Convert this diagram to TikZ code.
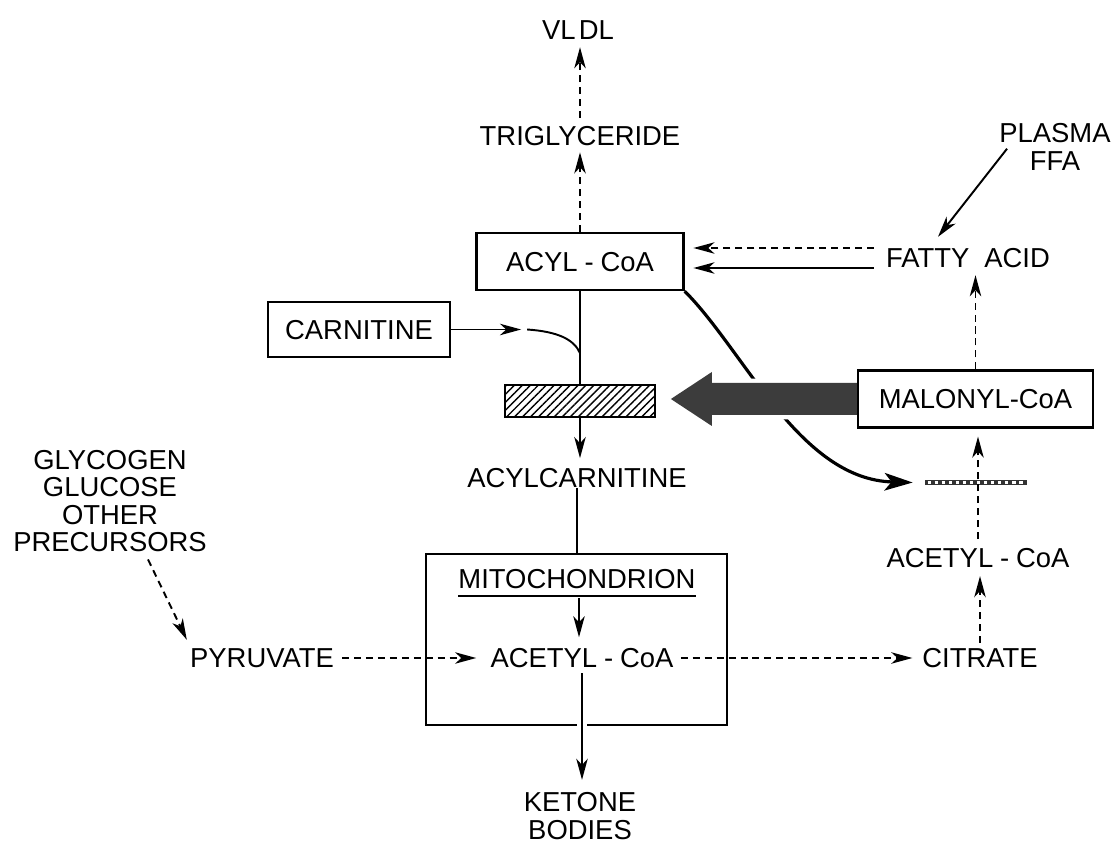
\documentclass[tikz,border=0pt]{standalone}
\usepackage{fontspec}
\setmainfont{Liberation Sans}
\usetikzlibrary{arrows.meta,calc,patterns.meta}
\pgfdeclarelayer{bg}
\pgfdeclarelayer{fg}
\pgfsetlayers{bg,main,fg}
\definecolor{bigarrow}{HTML}{3C3C3C}
\newcommand{\hy}{\hspace{0.25em}-\hspace{0.25em}}
\begin{document}
\begin{tikzpicture}[x=0.02cm,y=-0.02cm,
  every node/.style={font=\fontsize{15.6pt}{15.7pt}\selectfont},
  lbl/.style={inner sep=0pt, text height=11.2pt, text depth=0pt},
  boxed/.style={draw, line width=1.3pt, inner sep=0pt, text height=11.2pt, text depth=0pt},
  ln/.style={line width=1.1pt},
  dsh/.style={line width=1.1pt, dash pattern=on 4pt off 2.8pt},
  arr/.style={-{Stealth[length=12pt,width=6.5pt,inset=3.5pt]}},
  ]
\useasboundingbox (0,0) rectangle (1119,844);

% nodes
\node[lbl] (vldl) at (578,30) {VL\hspace{0.12em}DL};
\node[lbl] (trig) at (580,136) {TRIGLYCERIDE};
\node[boxed, minimum width=4.14cm, minimum height=1.14cm] (acyl) at (580,261.5) {ACYL\hy CoA};
\node[lbl] (fatty) at (968,258) {FATTY\hspace{0.55em}ACID};
\node[align=center, inner sep=0pt] (plasma) at (1055,147) {PLASMA\\FFA};
\node[boxed, minimum width=3.64cm, minimum height=1.10cm] (carn) at (359,329.5) {CARNITINE};
\node[draw, line width=1.1pt, pattern={Lines[angle=45,distance=3.2pt,line width=0.8pt]},
      minimum width=3cm, minimum height=0.64cm, inner sep=0pt] (bar1) at (580,401) {};
\begin{pgfonlayer}{fg}
\node[boxed, fill=white, minimum width=4.7cm, minimum height=1.14cm] (mal) at (975.5,399) {MALONYL-CoA};
\end{pgfonlayer}
\node[lbl] (acylcarn) at (577,478) {ACYLCARNITINE};
\node[draw, line width=1.3pt, minimum width=6.02cm, minimum height=3.42cm, inner sep=0pt] (mito) at (576.5,639.5) {};
\node[lbl] (mitolab) at (577,579) {MITOCHONDRION};
\node[lbl] (acet) at (582,658) {ACETYL\hy CoA};
\node[lbl] (pyr) at (262,658) {PYRUVATE};
\node[lbl] (cit) at (980,658) {CITRATE};
\node[lbl] (acet2) at (978,558) {ACETYL\hy CoA};
\node[fill=black!80, minimum width=2.04cm, minimum height=0.1cm, inner sep=0pt] (bar2) at (976,482.5) {};
\node[align=center, inner sep=0pt] (ket) at (580,816) {KETONE\\BODIES};
\node[align=center, inner sep=0pt] (gly) at (110,501) {GLYCOGEN\\GLUCOSE\\OTHER\\PRECURSORS};

% underline
\draw[ln] ($(mitolab.south west)+(0,7)$) -- ($(mitolab.south east)+(0,7)$);
\coordinate (ul) at ($(mitolab.south)+(2,9)$);

% bar2 dashes
\draw[white, line width=1.2pt, dash pattern=on 2pt off 2pt] ($(bar2.west)+(3,0)$) -- ($(bar2.east)+(-3,0)$);

% connectors
\draw[dsh,arr,shorten <=4.5pt,shorten >=4pt] (trig.north) -- (trig.north |- vldl.south);
\draw[dsh,arr,shorten >=3.5pt] (acyl.north) -- (acyl.north |- trig.south);
\coordinate (f1) at ($(fatty.west)+(-12,-10)$);
\coordinate (f2) at ($(fatty.west)+(-12,10)$);
\draw[dsh,arr,shorten >=5pt] (f1) -- (acyl.east |- f1);
\draw[ln,arr,shorten >=5pt] (f2) -- (acyl.east |- f2);
\draw[ln,arr] ($(plasma.south west)+(8,-22)$) -- ($(fatty.north)+(-30,-11)$);
\draw[dsh,arr,shorten >=4pt] (mal.north) -- (mal.north |- fatty.south);
\draw[ln] (acyl.south) -- (acyl.south |- bar1.north);
\draw[ln,arr,shorten >=5.5pt] (bar1.south) -- (bar1.south |- acylcarn.north);
\coordinate (cj1) at ($(carn.east)+(70,0)$);
\coordinate (cj2) at ($(acyl.south)+(0,62)$);
\draw[ln,arr] (carn.east) -- (cj1);
\draw[ln] ($(cj1)+(6,0)$) .. controls +(30,2) and +(-6,-14) .. (cj2);
\draw[ln] (acylcarn.south) -- (acylcarn.south |- mito.north);
\draw[ln,arr,shorten >=6pt] (ul) -- (ul |- acet.north);
\draw[white, line width=6pt] ($(acet.south |- mito.south)+(0,-3)$) -- ($(acet.south |- mito.south)+(0,3)$);
\draw[ln,arr,shorten <=3pt,shorten >=7pt] (acet.south) -- (acet.south |- ket.north);
\draw[dsh,arr,shorten <=4.5pt,shorten >=8pt] (pyr.east) -- (acet.west);
\draw[dsh,arr,shorten <=4pt,shorten >=5.5pt] (acet.east) -- (cit.west);
\draw[dsh,arr,shorten <=3pt,shorten >=4.5pt] (cit.north) -- (cit.north |- acet2.south);
\draw[dsh,arr,shorten <=5pt,shorten >=4.5pt] (acet2.north) -- (acet2.north |- mal.south);
\draw[dsh,arr] ($(gly.south)+(38,7)$) -- ($(pyr.north west)+(-3,-8)$);

% curved arrow (behind big arrow)
\begin{pgfonlayer}{bg}
\draw[line width=1.8pt, -{Stealth[length=16pt,width=10pt,inset=4pt]}]
  (acyl.south east) .. controls +(60,60) and +(-113,-3) .. ($(bar2.west)+(-12,0)$);
\end{pgfonlayer}

% big arrow
\fill[bigarrow, preaction={draw=white, line width=5pt}]
  ($(mal.west)+(1,-16)$) -- ($(mal.west)+(-145,-16)$) -- ($(mal.west)+(-145,-27)$)
  -- ($(mal.west)+(-186,0)$) -- ($(mal.west)+(-145,27)$) -- ($(mal.west)+(-145,16)$)
  -- ($(mal.west)+(1,16)$) -- cycle;
\end{tikzpicture}
\end{document}
